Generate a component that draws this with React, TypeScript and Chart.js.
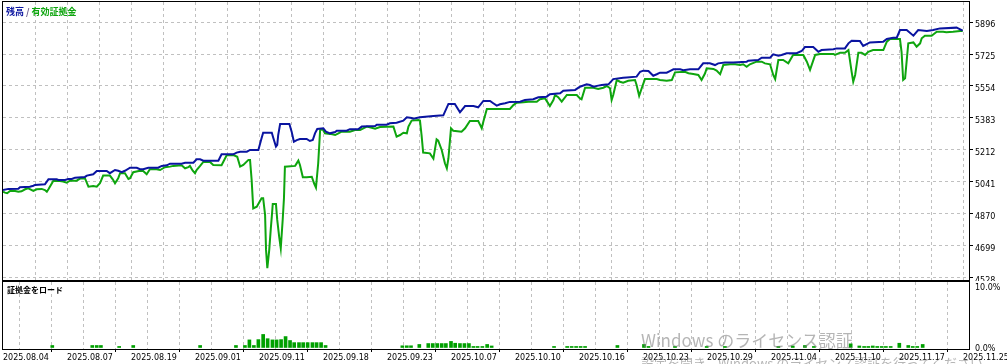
import React, { useEffect, useRef } from "react";
import { Chart, registerables } from "chart.js";

Chart.register(...registerables);

// ---- data ----
const dateLabels = [
  "2025.08.04", "2025.08.07", "2025.08.19", "2025.09.01", "2025.09.11", "2025.09.18",
  "2025.09.23", "2025.10.07", "2025.10.10", "2025.10.16", "2025.10.23", "2025.10.29",
  "2025.11.04", "2025.11.10", "2025.11.17", "2025.11.25",
];
const yTickValues = [4528, 4699, 4870, 5041, 5212, 5383, 5554, 5725, 5896];
const pctTickValues = [0, 10];

const balanceX = [
  0, 1.7, 4.8, 5.3, 8.4, 9.5, 10.0, 13.1, 14.2, 16.8, 17.3, 19.4, 20.4, 21.5, 22.5, 25.6, 26.2, 28.2, 29.3, 32.4,
  33.4, 35.0, 36.0, 37.1, 38.1, 39.7, 41.8, 42.8, 43.8, 45.4, 48.5, 49.6, 51.2, 52.2, 55.8, 56.9, 59.5, 60.5, 61.6, 62.6,
  67.3, 68.3, 72.0, 73.0, 74.1, 76.2, 77.2, 79.8, 80.8, 81.3, 84.0, 84.5, 85.3, 85.7, 86.0, 86.6, 89.5, 90.2, 90.9, 91.8,
  92.8, 94.9, 95.9, 96.8, 97.5, 98.2, 100.1, 100.9, 102.2, 103.8, 104.3, 107.4, 108.4, 111.0, 112.1, 116.3, 116.8, 119.9, 120.9, 123.0,
  125.1, 126.2, 127.7, 128.2, 130.3, 134.5, 137.6, 139.2, 141.2, 142.8, 144.4, 147.0, 148.5, 150.1, 152.2, 153.2, 154.3, 155.3, 156.9, 158.4,
  161.6, 163.1, 165.7, 167.3, 169.9, 170.9, 174.1, 175.1, 178.8, 180.3, 182.4, 183.4, 184.5, 186.0, 187.1, 189.2, 190.2, 190.7, 193.8, 194.9,
  198.0, 199.1, 200.1, 201.7, 203.2, 204.3, 205.3, 207.4, 208.4, 209.5, 211.6, 212.6, 214.7, 217.3, 218.8, 220.9, 222.5, 223.5, 225.6, 228.2,
  232.4, 232.9, 236.0, 237.1, 239.7, 240.7, 242.3, 243.3, 244.9, 248.0, 249.6, 250.6, 253.2, 254.8, 255.8, 259.5, 260.5, 263.1, 264.2, 265.2,
  267.8, 268.8, 269.9, 270.9, 275.1, 276.2, 278.2, 279.3, 280.3, 282.4, 284.5, 286.0, 288.7, 290.7, 292.8, 298.0, 298.5, 299.9,
];
const balanceY = [
  4998, 5004, 5005, 5013, 5016, 5021, 5025, 5029, 5055, 5055, 5052, 5052, 5057, 5057, 5064, 5068, 5075, 5082, 5100, 5100,
  5088, 5105, 5101, 5093, 5101, 5117, 5117, 5109, 5109, 5117, 5117, 5127, 5130, 5139, 5139, 5144, 5144, 5162, 5162, 5155,
  5155, 5189, 5189, 5198, 5203, 5203, 5212, 5212, 5275, 5304, 5304, 5275, 5230, 5239, 5292, 5351, 5351, 5310, 5256, 5265,
  5271, 5271, 5260, 5265, 5301, 5324, 5328, 5310, 5301, 5308, 5315, 5315, 5323, 5323, 5337, 5340, 5347, 5347, 5355, 5358,
  5369, 5387, 5383, 5379, 5387, 5394, 5397, 5458, 5458, 5413, 5447, 5447, 5440, 5474, 5474, 5462, 5449, 5456, 5462, 5469,
  5470, 5479, 5483, 5494, 5497, 5510, 5515, 5529, 5533, 5550, 5563, 5559, 5550, 5556, 5559, 5563, 5581, 5591, 5598, 5600,
  5604, 5630, 5636, 5634, 5609, 5617, 5625, 5625, 5634, 5643, 5643, 5638, 5643, 5643, 5675, 5675, 5666, 5675, 5680, 5679,
  5684, 5689, 5693, 5705, 5705, 5723, 5716, 5720, 5729, 5729, 5741, 5762, 5762, 5737, 5746, 5750, 5755, 5755, 5782, 5796,
  5794, 5768, 5778, 5787, 5791, 5805, 5812, 5812, 5853, 5853, 5823, 5853, 5848, 5853, 5862, 5866, 5862, 5850,
];

const equityX = [
  0, 0.6, 1.3, 2.2, 3.8, 4.8, 5.8, 6.9, 7.9, 9.0, 9.5, 10.5, 12.1, 13.1, 13.7, 14.2, 15.7, 17.3, 18.8, 19.9,
  20.9, 23.0, 24.1, 25.6, 26.7, 28.2, 29.3, 30.3, 31.3, 33.4, 34.3, 35.0, 36.0, 36.6, 38.1, 39.2, 39.7, 40.7, 42.8, 43.8,
  44.9, 45.9, 48.0, 49.1, 50.6, 52.2, 53.2, 55.8, 56.9, 57.9, 58.4, 59.3, 60.0, 60.5, 61.6, 62.6, 64.7, 65.7, 68.3, 69.9,
  72.0, 73.2, 74.1, 75.1, 76.7, 77.2, 77.7, 78.2, 79.3, 80.8, 81.3, 81.9, 82.2, 82.6, 83.2, 83.7, 84.0, 84.3, 85.3, 85.7,
  86.3, 86.8, 87.4, 87.8, 88.1, 91.3, 92.3, 92.8, 93.7, 94.9, 96.5, 97.2, 97.8, 98.5, 99.1, 99.9, 100.6, 102.2, 103.8, 104.8,
  105.8, 108.4, 110.0, 111.6, 112.6, 113.7, 115.2, 116.3, 117.8, 122.0, 123.0, 124.1, 125.1, 126.2, 126.7, 127.7, 129.8, 130.3, 130.8, 131.3,
  133.4, 134.5, 135.5, 136.0, 137.1, 138.1, 138.7, 139.2, 140.0, 140.7, 143.3, 144.4, 145.9, 148.5, 149.1, 149.6, 150.1, 151.2, 158.4, 159.5,
  160.5, 162.6, 164.2, 166.8, 167.8, 169.4, 170.9, 172.0, 172.5, 173.5, 174.6, 176.2, 179.3, 180.3, 180.8, 181.9, 184.5, 186.0, 187.6, 188.7,
  189.7, 190.2, 190.7, 191.8, 192.8, 193.8, 195.4, 197.5, 198.0, 198.8, 199.6, 200.6, 204.3, 205.3, 207.4, 209.0, 210.0, 213.1, 214.2, 215.7,
  217.3, 218.3, 219.4, 219.9, 222.0, 223.0, 224.1, 225.1, 227.2, 228.8, 230.3, 231.3, 232.4, 233.4, 235.5, 237.1, 238.1, 239.7, 240.7, 241.3,
  242.3, 243.8, 245.4, 246.9, 250.1, 251.2, 252.2, 253.8, 255.3, 259.5, 260.0, 261.6, 263.1, 264.2, 265.2, 265.7, 266.3, 267.3, 268.3, 269.4,
  270.4, 271.9, 275.1, 276.2, 277.2, 280.3, 280.8, 281.3, 281.9, 282.9, 284.5, 285.5, 286.6, 287.1, 288.1, 290.2, 291.2, 291.8, 293.8, 294.8,
  296.9, 299.1, 299.9,
];
const equityY = [
  4989, 4984, 4981, 4993, 4993, 4989, 4991, 5002, 5007, 4998, 4993, 5002, 5004, 4998, 4989, 5002, 5046, 5048, 5043, 5037,
  5048, 5048, 5059, 5061, 5016, 5020, 5016, 5034, 5075, 5075, 5055, 5034, 5061, 5088, 5088, 5057, 5061, 5093, 5101, 5100,
  5082, 5109, 5109, 5105, 5120, 5123, 5127, 5130, 5114, 5120, 5127, 5101, 5088, 5105, 5127, 5148, 5148, 5132, 5130, 5184,
  5185, 5176, 5123, 5132, 5159, 5159, 5052, 4900, 4909, 4954, 4954, 4865, 4678, 4580, 4678, 4794, 4856, 4923, 4923, 4838,
  4749, 4687, 4838, 4954, 5123, 5127, 5155, 5132, 5066, 5066, 5069, 5034, 5011, 5141, 5319, 5323, 5301, 5298, 5292, 5301,
  5310, 5310, 5319, 5319, 5328, 5337, 5331, 5326, 5335, 5337, 5283, 5292, 5304, 5301, 5337, 5369, 5372, 5369, 5292, 5198,
  5194, 5166, 5269, 5262, 5212, 5141, 5114, 5168, 5328, 5315, 5310, 5328, 5367, 5367, 5346, 5328, 5363, 5431, 5431, 5452,
  5465, 5467, 5470, 5470, 5483, 5488, 5447, 5479, 5506, 5494, 5470, 5506, 5506, 5488, 5483, 5545, 5545, 5538, 5545, 5554,
  5542, 5479, 5506, 5586, 5577, 5572, 5582, 5586, 5559, 5501, 5542, 5591, 5591, 5586, 5582, 5586, 5627, 5630, 5622, 5618,
  5613, 5586, 5622, 5649, 5645, 5636, 5617, 5666, 5670, 5670, 5666, 5670, 5657, 5670, 5684, 5684, 5675, 5670, 5613, 5591,
  5693, 5693, 5675, 5720, 5720, 5684, 5640, 5720, 5725, 5725, 5720, 5732, 5732, 5746, 5630, 5577, 5613, 5732, 5732, 5720,
  5737, 5746, 5746, 5791, 5805, 5805, 5737, 5586, 5595, 5782, 5787, 5764, 5782, 5809, 5823, 5823, 5836, 5844, 5844, 5841,
  5844, 5848, 5848,
];

const loadX = [
  15.4, 27.9, 29.3, 30.6, 36.3, 40.7, 61.6, 72.8, 75.6, 77.0, 78.4, 79.8, 81.3, 82.7, 84.2, 85.5, 86.9, 88.3, 89.7, 91.0,
  92.5, 93.8, 95.2, 96.7, 98.0, 99.4, 100.8, 124.8, 126.2, 127.5, 130.1, 132.9, 134.3, 135.7, 137.1, 138.4, 140.0, 141.3, 142.8, 144.2,
  145.6, 147.0, 148.3, 149.8, 151.3, 152.7, 172.2, 176.3, 177.7, 179.1, 180.5, 181.9, 192.0, 200.3, 201.7, 210.0, 219.9, 225.6, 242.3, 246.8,
  250.6, 253.4, 264.9, 267.6, 269.1, 270.4, 271.8, 273.2, 274.6, 275.9, 277.4, 280.1, 282.9, 284.3, 285.7, 287.4,
];
const loadPct = [
  0.33, 0.33, 0.33, 0.33, 0.17, 0.33, 0.33, 0.33, 0.33, 1.25, 0.33, 1.3, 2.15, 1.45, 1.25, 1.25, 1.3, 1.8, 1.15, 0.8,
  0.8, 0.8, 0.8, 0.8, 0.8, 0.8, 0.33, 0.28, 0.28, 0.28, 0.5, 0.65, 0.65, 0.65, 0.65, 0.65, 1.0, 0.7, 0.65, 0.65,
  0.65, 0.17, 0.17, 0.17, 0.5, 0.25, 0.17, 0.17, 0.17, 0.17, 0.17, 0.17, 0.33, 0.5, 0.17, 0.17, 0.17, 0.17, 0.17, 0.25,
  0.33, 0.17, 0.6, 0.25, 0.17, 0.17, 0.25, 0.17, 0.17, 0.17, 0.17, 0.7, 0.33, 0.17, 0.17, 0.5,
];

// ---- style ----
const BLUE = "#0a14a0";
const GREEN = "#0ea50e";
const BAR_GREEN = "#00a000";
const GRID = "#c0c0c0";
const TICK_FONT = { family: "'DejaVu Sans', sans-serif", size: 8 };
const X_MAX = 301.875;
const X_STEP = 10;
const LABEL_STEP = 20;

const gridValues = () => {
  const out: number[] = [];
  for (let v = 0; v <= 300; v += X_STEP) out.push(v);
  return out;
};

const framePlugin = {
  id: "frame",
  afterDraw(chart: any) {
    const { ctx, chartArea: a } = chart;
    ctx.save();
    ctx.strokeStyle = "#000";
    ctx.lineWidth = 1;
    ctx.setLineDash([]);
    ctx.strokeRect(
      Math.round(a.left) - 0.5,
      Math.round(a.top) - 0.5,
      Math.round(a.right - a.left) + 1,
      Math.round(a.bottom - a.top) + 1
    );
    ctx.restore();
  },
};

export default function App() {
  const topRef = useRef<HTMLCanvasElement | null>(null);
  const botRef = useRef<HTMLCanvasElement | null>(null);

  useEffect(() => {
    const top = new Chart(topRef.current as HTMLCanvasElement, {
      type: "line",
      data: {
        datasets: [
          {
            label: "残高",
            data: balanceX.map((x, i) => ({ x, y: balanceY[i] })),
            borderColor: BLUE,
            borderWidth: 2,
            pointRadius: 0,
            tension: 0,
            fill: false,
          },
          {
            label: "有効証拠金",
            data: equityX.map((x, i) => ({ x, y: equityY[i] })),
            borderColor: GREEN,
            borderWidth: 2,
            pointRadius: 0,
            tension: 0,
            fill: false,
          },
        ],
      },
      options: {
        animation: false,
        responsive: false,
        maintainAspectRatio: false,
        events: [],
        layout: { padding: { left: 3, top: 2, right: 0, bottom: 1 } },
        plugins: { legend: { display: false }, tooltip: { enabled: false } },
        scales: {
          x: {
            type: "linear",
            min: 0,
            max: X_MAX,
            afterBuildTicks: (s: any) => {
              s.ticks = gridValues().filter((v) => v > 0).map((v) => ({ value: v }));
            },
            afterFit: (s: any) => {
              s.height = 0;
              s.paddingLeft = 0;
              s.paddingRight = 0;
            },
            ticks: { display: false },
            grid: { color: GRID, lineWidth: 1, drawTicks: false },
            border: { display: false, dash: [3, 3] },
          },
          y: {
            position: "right",
            min: 4517,
            max: 6003,
            afterBuildTicks: (s: any) => {
              s.ticks = yTickValues.map((v) => ({ value: v }));
            },
            afterFit: (s: any) => {
              s.width = 38;
              s.paddingTop = 0;
              s.paddingBottom = 0;
            },
            ticks: {
              font: TICK_FONT,
              color: "#000",
              padding: 2,
              labelOffset: 3,
              callback: (v: any) => String(v),
            },
            grid: { color: GRID, lineWidth: 1, tickColor: "#000", tickLength: 4, tickBorderDash: [] },
            border: { display: false, dash: [3, 3] },
          },
        },
      } as any,
      plugins: [framePlugin],
    });

    const bot = new Chart(botRef.current as HTMLCanvasElement, {
      type: "bar",
      data: {
        datasets: [
          {
            label: "証拠金をロード",
            data: loadX.map((x, i) => ({ x, y: loadPct[i] })),
            backgroundColor: BAR_GREEN,
            borderWidth: 0,
            barThickness: 3,
          },
        ],
      },
      options: {
        animation: false,
        responsive: false,
        maintainAspectRatio: false,
        events: [],
        layout: { padding: { left: 3, top: 1, right: 0, bottom: 0 } },
        plugins: { legend: { display: false }, tooltip: { enabled: false } },
        scales: {
          x: {
            type: "linear",
            min: 0,
            max: X_MAX,
            offset: false,
            afterBuildTicks: (s: any) => {
              s.ticks = gridValues().map((v) => ({ value: v }));
            },
            afterFit: (s: any) => {
              s.height = 15;
              s.paddingLeft = 0;
              s.paddingRight = 0;
            },
            ticks: {
              autoSkip: false,
              maxRotation: 0,
              minRotation: 0,
              align: "start",
              padding: 1,
              font: TICK_FONT,
              color: "#000",
              callback: (v: any) => (v % LABEL_STEP === 0 ? dateLabels[v / LABEL_STEP] : ""),
            },
            grid: {
              color: (c: any) => (c.tick && c.tick.value === 0 ? "rgba(0,0,0,0)" : GRID),
              tickColor: (c: any) => (c.tick && c.tick.value % LABEL_STEP === 0 ? "#000" : "rgba(0,0,0,0)"),
              tickLength: 3,
              tickBorderDash: [],
              lineWidth: 1,
            },
            border: { display: false, dash: [3, 3] },
          },
          y: {
            position: "right",
            min: -0.25,
            max: 10.8,
            afterBuildTicks: (s: any) => {
              s.ticks = pctTickValues.map((v) => ({ value: v }));
            },
            afterFit: (s: any) => {
              s.width = 38;
              s.paddingTop = 0;
              s.paddingBottom = 0;
            },
            ticks: {
              font: TICK_FONT,
              color: "#000",
              padding: 2,
              labelOffset: 1.5,
              callback: (v: any) => Number(v).toFixed(1) + "%",
            },
            grid: { display: false, drawTicks: true, tickLength: 4 },
            border: { display: false },
          },
        },
      } as any,
      plugins: [framePlugin],
    });

    return () => {
      top.destroy();
      bot.destroy();
    };
  }, []);

  return (
    <div
      style={{
        position: "absolute",
        left: 0,
        top: 0,
        width: 1007,
        height: 364,
        background: "#fff",
        overflow: "hidden",
      }}
    >
      <canvas
        ref={topRef}
        width={1007}
        height={281}
        style={{ position: "absolute", left: 0, top: 0, width: 1007, height: 281 }}
      />
      <canvas
        ref={botRef}
        width={1007}
        height={83}
        style={{ position: "absolute", left: 0, top: 281, width: 1007, height: 83 }}
      />
      <div
        style={{
          position: "absolute",
          left: 6,
          top: 7,
          fontFamily: "'Noto Sans CJK JP', sans-serif",
          fontSize: 9,
          lineHeight: "10px",
          fontWeight: "bold",
          whiteSpace: "nowrap",
        }}
      >
        <span style={{ color: BLUE }}>残高</span>
        <span style={{ color: "#6a5a8a" }}> / </span>
        <span style={{ color: GREEN }}>有効証拠金</span>
      </div>
      <div
        style={{
          position: "absolute",
          left: 7,
          top: 285,
          fontFamily: "'Noto Sans CJK JP', sans-serif",
          fontSize: 8,
          lineHeight: "9px",
          fontWeight: "bold",
          color: "#000",
          whiteSpace: "nowrap",
        }}
      >
        証拠金をロード
      </div>
      <div
        style={{
          position: "absolute",
          left: 641,
          top: 331,
          fontFamily: "'Noto Sans CJK JP', sans-serif",
          fontSize: 17,
          lineHeight: "17px",
          color: "rgba(120,120,120,0.55)",
          whiteSpace: "nowrap",
          pointerEvents: "none",
        }}
      >
        Windows のライセンス認証
      </div>
      <div
        style={{
          position: "absolute",
          left: 641,
          top: 356,
          fontFamily: "'Noto Sans CJK JP', sans-serif",
          fontSize: 13,
          lineHeight: "13px",
          color: "rgba(120,120,120,0.55)",
          whiteSpace: "nowrap",
          pointerEvents: "none",
        }}
      >
        設定を開き、Windows のライセンス認証を行ってください。
      </div>
    </div>
  );
}
